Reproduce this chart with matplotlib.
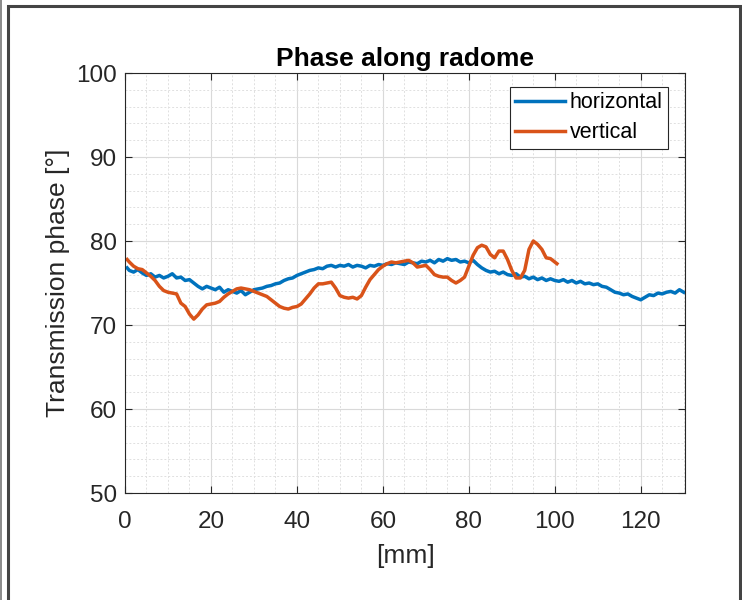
import numpy as np
import matplotlib.pyplot as plt
from matplotlib.ticker import MultipleLocator
from matplotlib.patches import Rectangle
from matplotlib.lines import Line2D

plt.rcParams['font.family'] = ['Liberation Sans', 'DejaVu Sans']

# horizontal polarisation, one sample per mm
h_x = [0.5] + list(range(1, 131))
h_phase = [76.8,
           76.5, 76.3, 76.6, 76.2, 75.9, 76.1, 75.7, 75.9, 75.6, 75.8,
           76.1, 75.6, 75.7, 75.3, 75.4, 75.0, 74.6, 74.3, 74.6, 74.4,
           74.2, 74.5, 73.9, 74.2, 74.0, 73.8, 74.1, 73.6, 73.9, 74.2,
           74.3, 74.4, 74.6, 74.7, 74.9, 75.0, 75.3, 75.5, 75.6, 75.9,
           76.1, 76.3, 76.5, 76.6, 76.8, 76.7, 77.0, 77.1, 76.9, 77.1,
           77.0, 77.2, 76.9, 77.1, 77.0, 76.8, 77.1, 77.0, 77.2, 77.1,
           77.3, 77.2, 77.4, 77.3, 77.2, 77.5, 77.4, 77.3, 77.6, 77.5,
           77.7, 77.4, 77.8, 77.6, 77.9, 77.7, 77.8, 77.5, 77.6, 77.4,
           77.7, 77.2, 76.8, 76.5, 76.3, 76.4, 76.1, 76.3, 76.0, 75.9,
           76.1, 75.7, 75.8, 75.5, 75.7, 75.4, 75.6, 75.3, 75.5, 75.3,
           75.2, 75.4, 75.1, 75.3, 75.0, 75.2, 74.9, 75.0, 74.8, 74.9,
           74.6, 74.5, 74.2, 73.9, 73.8, 73.6, 73.7, 73.4, 73.2, 73.0,
           73.3, 73.6, 73.5, 73.8, 73.7, 73.9, 74.0, 73.8, 74.2, 73.9]

# vertical polarisation
v_x = [0.5] + list(range(1, 101)) + [100.5]
v_phase = [77.8,
           77.5, 77.0, 76.7, 76.6, 76.2, 75.8, 75.3, 74.6, 74.1, 73.9,
           73.8, 73.7, 72.6, 72.2, 71.3, 70.7, 71.2, 71.9, 72.4, 72.5,
           72.6, 72.8, 73.3, 73.7, 74.0, 74.3, 74.4, 74.3, 74.2, 74.0,
           73.8, 73.6, 73.4, 73.0, 72.6, 72.2, 72.0, 71.9, 72.1, 72.2,
           72.5, 73.1, 73.7, 74.4, 74.9, 74.9, 75.0, 75.1, 74.4, 73.5,
           73.3, 73.2, 73.3, 73.1, 73.5, 74.5, 75.4, 76.0, 76.6, 77.0,
           77.3, 77.5, 77.4, 77.5, 77.6, 77.7, 77.4, 76.9, 77.0, 77.1,
           76.6, 76.0, 75.8, 75.7, 75.7, 75.3, 75.0, 75.3, 75.7, 77.0,
           78.3, 79.2, 79.5, 79.3, 78.4, 78.0, 78.8, 78.8, 77.8, 76.5,
           75.6, 75.6, 76.5, 79.0, 80.0, 79.6, 79.0, 78.0, 77.9, 77.5,
           77.3]

fig = plt.figure(figsize=(7.42, 6), dpi=100)
ax = fig.add_axes([125 / 742, 1 - 493 / 600, 560 / 742, 420 / 600])

ax.plot(h_x, h_phase, color='#0072BD', lw=2.5, label='horizontal')
ax.plot(v_x, v_phase, color='#D95319', lw=2.5, label='vertical')

ax.set_xlim(0, 130.3)
ax.set_ylim(50, 100)
ax.xaxis.set_major_locator(MultipleLocator(20))
ax.xaxis.set_minor_locator(MultipleLocator(5))
ax.yaxis.set_major_locator(MultipleLocator(10))
ax.yaxis.set_minor_locator(MultipleLocator(2))

dark = '#262626'
ax.grid(True, which='major', color='#d9d9d9', lw=0.8)
ax.grid(True, which='minor', color='#e0e0e0', lw=0.7, ls=(0, (2, 2)))
ax.set_axisbelow(True)
ax.tick_params(which='major', direction='in', length=5, width=0.8,
               top=True, right=True, labelsize=17.5, colors=dark)
ax.tick_params(axis='x', which='major', pad=13)
ax.tick_params(axis='y', which='major', pad=6)
ax.tick_params(which='minor', length=0, top=True, right=True)
for s in ax.spines.values():
    s.set_color(dark)
    s.set_linewidth(0.8)

ax.set_title('Phase along radome', fontsize=19, fontweight='bold', pad=5)
ax.set_xlabel('[mm]', fontsize=19, color=dark, labelpad=8)
ax.set_ylabel('Transmission phase [°]', fontsize=19, color=dark, labelpad=4)

leg = ax.legend(loc='upper right', bbox_to_anchor=(0.9696, 0.9667),
                borderaxespad=0, fontsize=15.5,
                handlelength=2.3, handletextpad=0.23, borderpad=0.25,
                labelspacing=0.42, fancybox=False, framealpha=1)
leg.get_frame().set_edgecolor(dark)
leg.get_frame().set_linewidth(0.8)

# outer frame of the screenshot
fig.patches.append(Rectangle((8 / 742, -0.05), 732 / 742, 1.05 - 6 / 600,
                             transform=fig.transFigure, fill=False,
                             ec='#444444', lw=2.2))
fig.lines.append(Line2D([1 / 742, 1 / 742], [0, 1], transform=fig.transFigure,
                        color='#777777', lw=1.2))

fig.savefig('out.png', dpi=100)
